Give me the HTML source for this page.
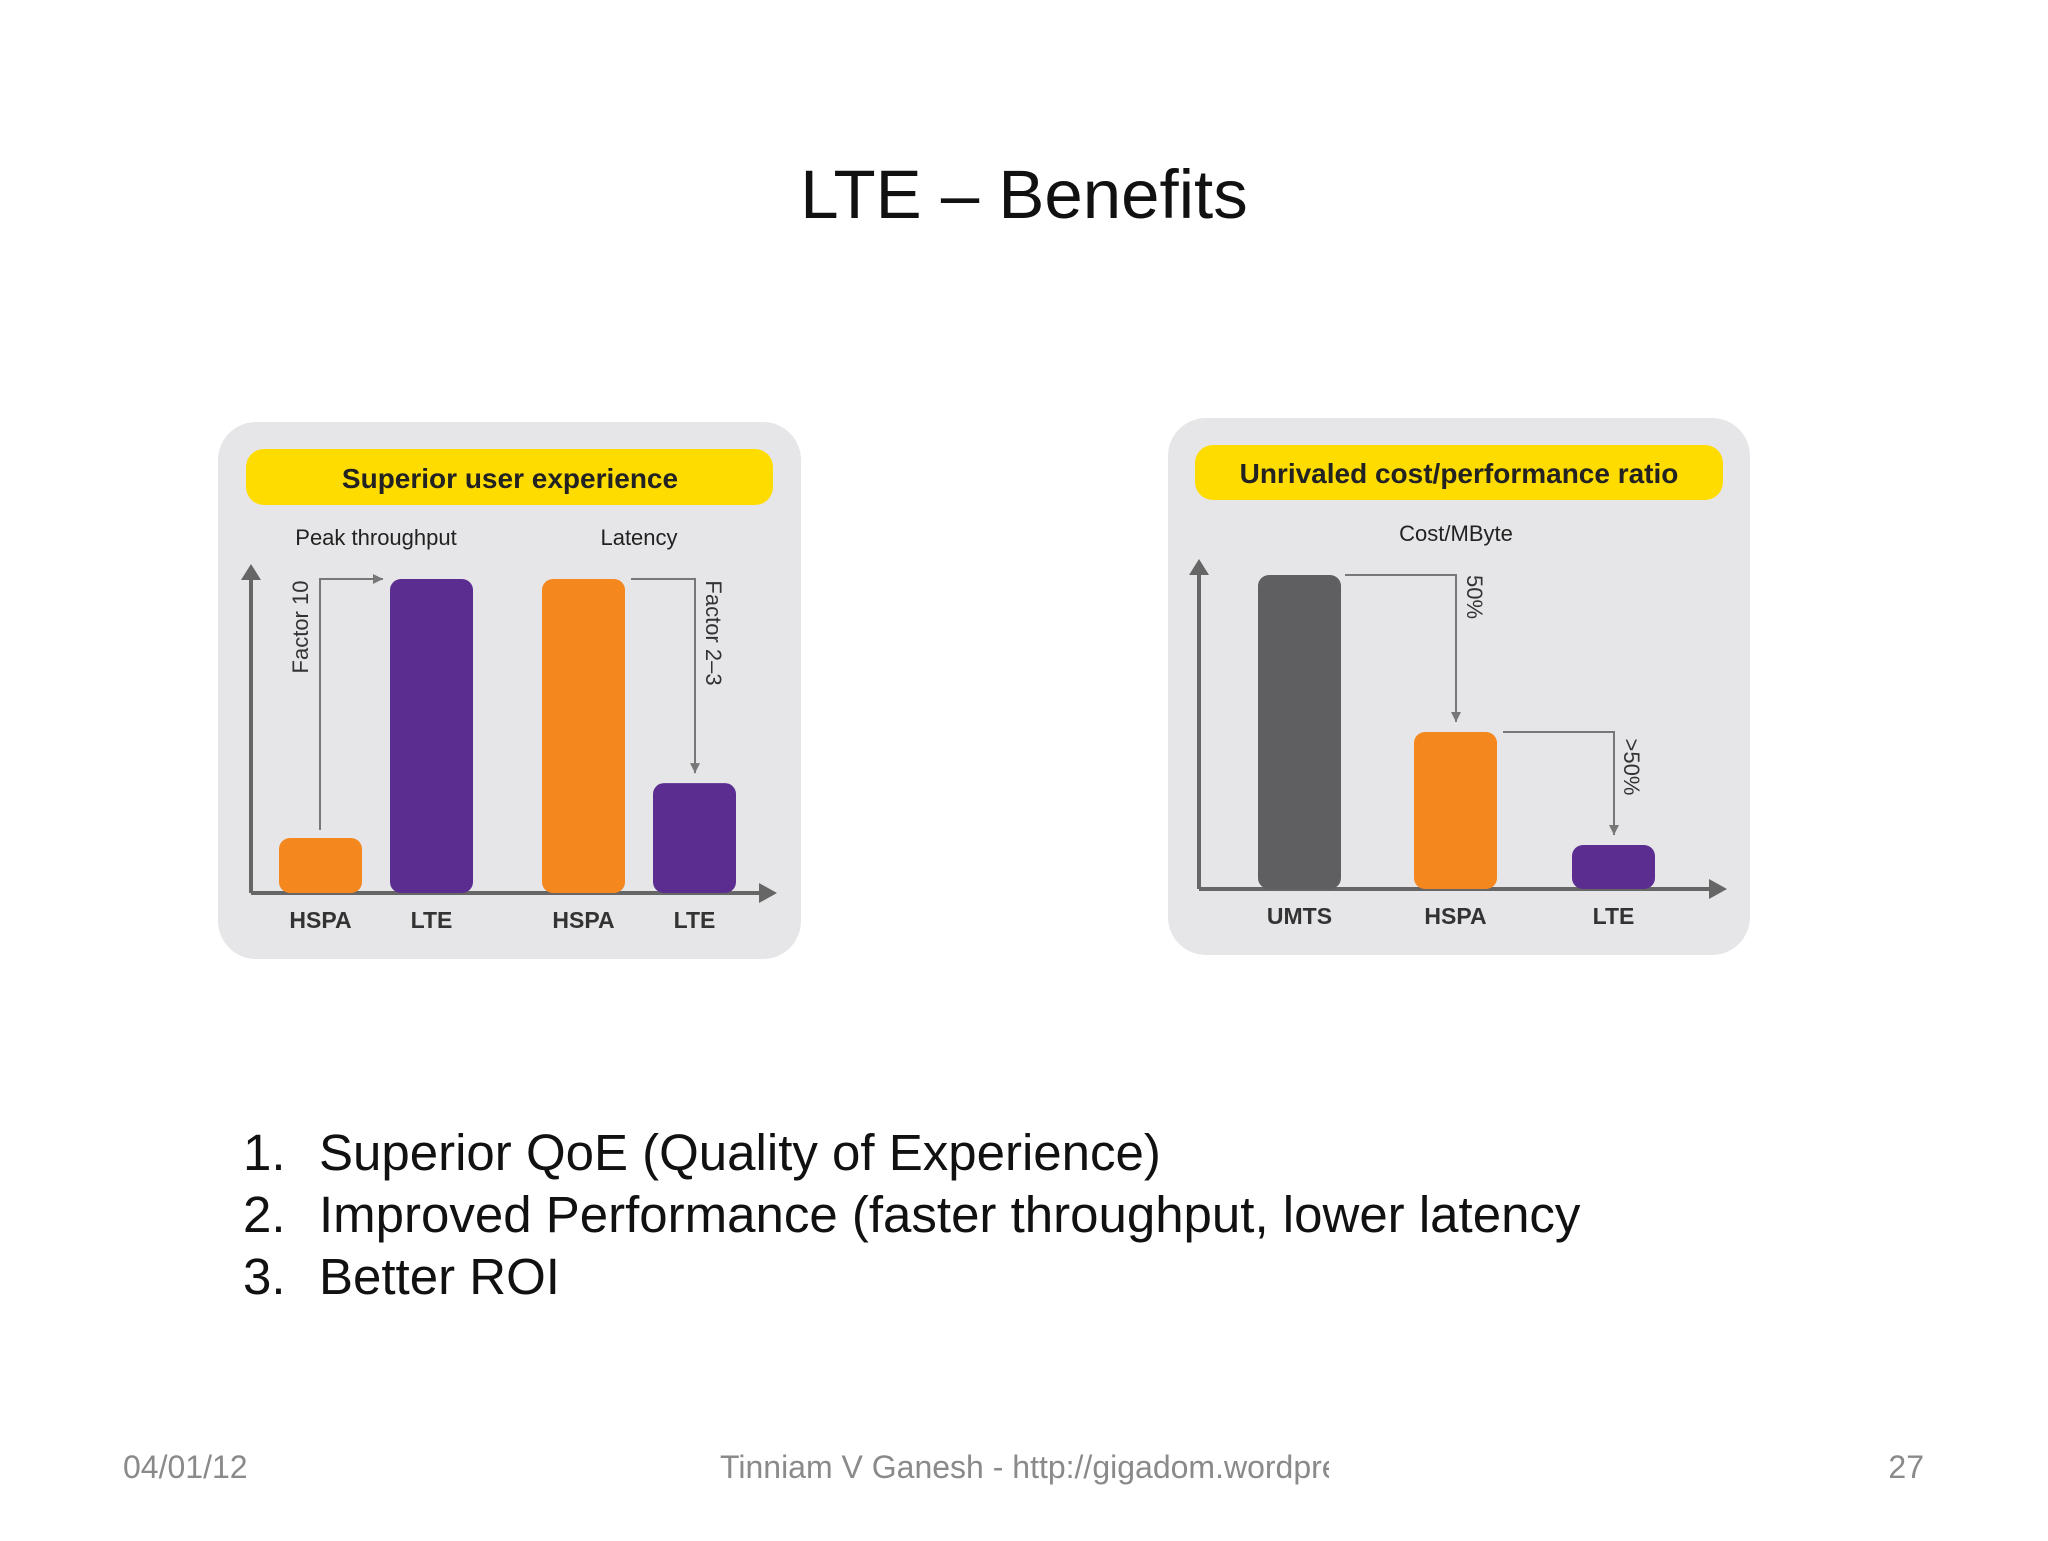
<!DOCTYPE html>
<html><head><meta charset="utf-8"><style>
body{margin:0;width:2048px;height:1536px;background:#fff;overflow:hidden;font-family:"Liberation Sans",sans-serif}
</style></head><body>
<svg id="s" width="2048" height="1536" xmlns="http://www.w3.org/2000/svg" font-family="Liberation Sans, sans-serif">
<defs><clipPath id="fc"><rect x="600" y="1430" width="729" height="70"/></clipPath></defs>
<text x="1024" y="218" font-size="69" text-anchor="middle" fill="#111">LTE – Benefits</text>
<g>
<rect x="218" y="422" width="583" height="537" rx="38" fill="#e6e6e8"/>
<rect x="246" y="449" width="527" height="56" rx="18" fill="#ffdc00"/>
<text x="510" y="488" font-size="28" font-weight="bold" text-anchor="middle" fill="#222">Superior user experience</text>
<text x="376" y="545" font-size="22" text-anchor="middle" fill="#222">Peak throughput</text>
<text x="639" y="545" font-size="22" text-anchor="middle" fill="#222">Latency</text>
</g>
<g>
<rect x="1168" y="418" width="582" height="537" rx="38" fill="#e6e6e8"/>
<rect x="1195" y="445" width="528" height="55" rx="18" fill="#ffdc00"/>
<text x="1459" y="483" font-size="28" font-weight="bold" text-anchor="middle" fill="#222">Unrivaled cost/performance ratio</text>
<text x="1456" y="541" font-size="22" text-anchor="middle" fill="#222">Cost/MByte</text>
</g>
<g id="charts"></g>
<g font-size="51" fill="#111">
<text x="243" y="1170">1.</text><text x="319" y="1170">Superior QoE (Quality of Experience)</text>
<text x="243" y="1232">2.</text><text x="319" y="1232">Improved Performance (faster throughput, lower latency</text>
<text x="243" y="1294">3.</text><text x="319" y="1294">Better ROI</text>
</g>
<g font-size="32" fill="#8a8a8a">
<text x="123" y="1478">04/01/12</text>
<text x="720" y="1478" clip-path="url(#fc)">Tinniam V Ganesh - http://gigadom.wordpress</text>
<text x="1924" y="1478" text-anchor="end">27</text>
</g>
</svg>
<script>
const leftCats=["HSPA","LTE","HSPA","LTE"];
const leftVals=[17.5,100,100,35];
const rightCats=["UMTS","HSPA","LTE"];
const rightVals=[100,50,14];
const colors={HSPA:"#f5871f",LTE:"#5b2d90",UMTS:"#5f5e61"};
const NS="http://www.w3.org/2000/svg";
const g=document.getElementById('charts');
function el(t,a){const e=document.createElementNS(NS,t);for(const k in a)e.setAttribute(k,a[k]);g.appendChild(e);return e;}
function chart(cats,vals,xs,base,h,axX,axTop,axRight,lblY,prefix){
  const y=v=>base-v/100*h;
  const a1=el('path',{d:`M${axX} ${base}V${axTop+14}M${axX} ${base}H${axRight-14}`,stroke:'#666','stroke-width':4,fill:'none'});
  
  const a2=el('path',{d:`M${axX-10} ${axTop+16}L${axX} ${axTop}L${axX+10} ${axTop+16}ZM${axRight-18} ${base-10}L${axRight} ${base}L${axRight-18} ${base+10}Z`,fill:'#666'});
  
  const tops=[];
  cats.forEach((c,i)=>{
    const t=y(vals[i]);tops.push(t);
    const r=el('rect',{x:xs[i],y:t,width:83,height:base-t,rx:11,fill:colors[c]});
    
    
    const l=el('text',{x:xs[i]+41.5,y:lblY,'font-size':23,'font-weight':'bold','text-anchor':'middle',fill:'#333'});
    l.textContent=c;
    
    
  });
  return {y,tops};
}
function ann(d,ax,ay,dir,tx,ty,rot,txt){
  const p=el('path',{d,stroke:'#777','stroke-width':2,fill:'none'});
  
  const h=dir==='r'?`M${ax-10} ${ay-5}L${ax} ${ay}L${ax-10} ${ay+5}Z`:`M${ax-5} ${ay-10}L${ax} ${ay}L${ax+5} ${ay-10}Z`;
  el('path',{d:h,fill:'#777'});
  const t=el('text',{x:tx,y:ty,'font-size':22,'text-anchor':'middle',fill:'#333',transform:`rotate(${rot} ${tx} ${ty})`,'dominant-baseline':'middle'});
  t.textContent=txt;
  
}
const L=chart(leftCats,leftVals,[279,390,542,653],893,314,251,564,777,928,'left');
ann(`M320 ${L.tops[0]-8}V${L.tops[1]}H383`,383,L.tops[1],'r',302,627,-90,'Factor 10');
ann(`M631 ${L.tops[2]}H695V${L.tops[3]-10}`,695,L.tops[3]-10,'d',712,633,90,'Factor 2–3');
const R=chart(rightCats,rightVals,[1258,1414,1572],889,314,1199,559,1727,924,'right');
ann(`M1345 ${R.tops[0]}H1456V${R.tops[1]-10}`,1456,R.tops[1]-10,'d',1473,597,90,'50%');
ann(`M1503 ${R.tops[1]}H1614V${R.tops[2]-10}`,1614,R.tops[2]-10,'d',1630,767,90,'>50%');
</script>
</body></html>
